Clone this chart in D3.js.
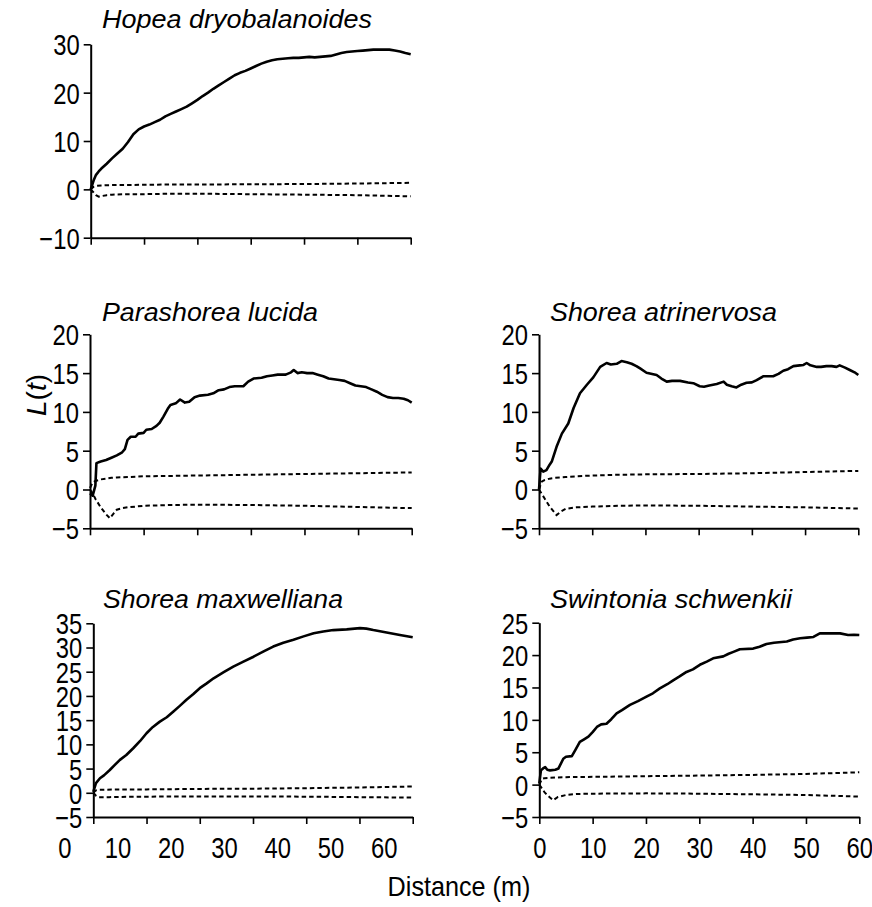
<!DOCTYPE html>
<html>
<head>
<meta charset="utf-8">
<script src="https://cdn.jsdelivr.net/npm/d3@7/dist/d3.min.js"></script>
<style>
  html, body { margin: 0; padding: 0; background: #fff; }
  svg { display: block; }
  .tick text { font-family: "Liberation Sans", Arial, sans-serif; font-size: 29px; fill: #000; }
</style>
</head>
<body>
<svg id="chart" width="872" height="907"></svg>
<script>
// ---------- DATA ----------
const speciesNames = ["Hopea dryobalanoides", "Parashorea lucida", "Shorea atrinervosa", "Shorea maxwelliana", "Swintonia schwenkii"];
const xTickValues = [0, 10, 20, 30, 40, 50, 60];

// Hopea dryobalanoides
const hopeaDist = [0,0.3,0.6,1,1.5,2,3,4,5,6,7,8,9,10,11,12,13,14,15,16,17,18,19,20,21,22,23,24,25,26,27,28,29,30,31,32,33,34,35,36,37,38,39,40,41,42,43,44,45,46,47,48,49,50,51,52,53,54,55,56,57,58,59,60];
const hopeaL    = [0,1.0,2.0,3.0,3.7,4.3,5.3,6.4,7.4,8.4,9.8,11.4,12.4,13.0,13.4,13.9,14.4,15.1,15.6,16.1,16.6,17.1,17.8,18.5,19.3,20.0,20.8,21.5,22.2,22.9,23.6,24.1,24.5,25.0,25.5,26.0,26.4,26.7,26.9,27.0,27.1,27.2,27.2,27.3,27.4,27.3,27.4,27.5,27.6,27.9,28.2,28.4,28.5,28.6,28.7,28.8,28.9,28.9,28.9,28.9,28.7,28.5,28.2,27.95];
const hopeaUpX  = [0,0.5,1,2,3,5,7,10,15,20,30,40,50,60];
const hopeaUp   = [0,0.5,0.7,0.8,0.85,0.9,0.9,0.95,1.0,1.0,1.05,1.1,1.2,1.35];
const hopeaLoX  = [0,0.5,1,1.5,2,3,4,5,7,10,15,20,30,40,50,60];
const hopeaLo   = [0,-0.6,-1.2,-1.5,-1.4,-1.2,-1.1,-1.05,-1.0,-1.0,-0.9,-0.9,-1.0,-1.1,-1.2,-1.45];

// Parashorea lucida
const paraDist = [0,0.5,1,1.2,2,3,4,5,6,6.5,7,7.6,8.5,9,10,10.5,11.5,12.4,13,13.7,14.5,15,16,16.8,17.7,18.5,19.5,20.5,22,23,24,25,26,27,28.6,29.5,30.5,32,33,34,35,36.5,37.5,38,38.7,39.5,40.5,41.5,42.5,43.5,44.5,45.5,46.5,47.5,48.5,49.5,50.5,51.5,52.5,53.5,54.5,55.5,56.5,57.5,58.5,59.3,60];
const paraL    = [-0.5,-0.8,0.5,3.4,3.6,3.8,4.1,4.4,4.8,5.2,6.4,6.8,6.8,7.2,7.3,7.7,7.8,8.2,8.6,9.4,10.4,10.9,11.1,11.6,11.2,11.3,11.9,12.1,12.2,12.4,12.8,12.9,13.2,13.3,13.3,13.9,14.3,14.4,14.6,14.7,14.8,14.8,15.1,15.4,15.0,15.1,15.0,15.0,14.8,14.6,14.3,14.2,14.1,14.0,13.7,13.4,13.3,13.2,12.9,12.6,12.2,11.9,11.8,11.8,11.7,11.5,11.2];
const paraUpX  = [0,0.5,1,2,3,4,5,7,10,15,20,30,40,50,60];
const paraUp   = [0.2,0.9,1.1,1.3,1.4,1.5,1.55,1.6,1.7,1.75,1.8,1.9,2.0,2.1,2.2];
const paraLoX  = [0,0.5,1,2,3,3.7,4.5,5,6,7,10,15,20,30,40,50,60];
const paraLo   = [0,-0.5,-1.2,-2.3,-3.2,-3.7,-3.0,-2.6,-2.4,-2.3,-2.1,-2.0,-1.95,-2.0,-2.1,-2.25,-2.4];

// Shorea atrinervosa
const atriDist = [0,0.3,0.8,1.4,2,2.4,3.3,4.3,5.5,6.5,7.7,9,10.2,11.5,12.7,13.5,14.6,15.5,16.5,17.4,18.3,19,20.2,22.1,23,24,25,26.5,28,29,30.2,31,32,33.4,34.7,35.3,36.2,37.1,38,39,40,40.9,42.2,44,45,45.9,46.8,47.8,49,49.7,50.3,51,52.2,53,54,55,55.9,56.5,57.5,58.4,59.3,60];
const atriL    = [0,2.7,2.3,2.5,3.2,3.6,5.5,7.2,8.5,10.5,12.4,13.5,14.45,15.8,16.3,16.1,16.2,16.55,16.4,16.2,15.9,15.6,15.05,14.75,14.3,13.9,14.0,14.0,13.8,13.7,13.3,13.25,13.4,13.6,13.9,13.5,13.3,13.15,13.5,13.75,13.8,14.1,14.6,14.6,14.9,15.3,15.5,15.9,16.0,16.05,16.3,16.0,15.8,15.8,15.9,15.9,15.8,16.0,15.7,15.4,15.1,14.75];
const atriUpX  = [0,0.5,1,2,3,5,7,10,15,20,30,40,50,60];
const atriUp   = [0,1.0,1.2,1.4,1.5,1.6,1.7,1.8,1.9,1.95,2.0,2.1,2.25,2.4];
const atriLoX  = [0,1,2,3.3,4.2,5,7,10,15,20,30,40,50,60];
const atriLo   = [0,-1.1,-2.2,-3.3,-2.8,-2.5,-2.3,-2.2,-2.1,-2.05,-2.1,-2.2,-2.3,-2.45];

// Shorea maxwelliana
const maxwDist = [0,0.5,1.25,2,3.1,4,5,6.2,7.5,8.8,10,11.2,12.5,13.8,15,16.2,17.5,18.8,20,21.3,22.6,24.5,26.3,28.2,30.1,32,33.8,35.7,37.6,39.5,41.4,43.2,45.1,47.6,50.1,51.3,52.6,55.1,57.6,60];
const maxwL    = [0.2,2.0,3.0,3.6,4.7,5.7,6.8,7.8,9.2,10.7,12.3,13.6,14.7,15.6,16.75,17.9,19.2,20.4,21.6,22.6,23.65,24.9,26.05,27.1,28.1,29.2,30.2,31.0,31.6,32.3,32.95,33.3,33.6,33.75,34.0,33.9,33.6,33.1,32.6,32.1];
const maxwUpX  = [0,0.5,1,5,10,20,30,40,50,60];
const maxwUp   = [0,0.5,0.6,0.7,0.7,0.8,0.85,0.95,1.1,1.3];
const maxwLoX  = [0,0.5,1,3,5,10,20,30,40,50,60];
const maxwLo   = [0,-0.6,-0.9,-0.9,-0.85,-0.8,-0.75,-0.75,-0.8,-0.9,-1.0];

// Swintonia schwenkii
const swinDist = [0,0.3,0.7,1.1,1.5,2,3,3.6,4.5,5,6.1,6.8,7.6,8.4,9.2,10,10.8,11.6,12.6,13.5,14.5,15.5,17,18.5,20.1,21.3,22.6,24,25.1,26.3,27.6,28.8,30.1,31.4,32.6,34.5,35.5,36.4,37.6,40.1,41.3,42.6,44,46.4,47.6,48.9,50.2,51.4,52.6,54.5,56.4,57.9,59,60];
const swinL    = [0.17,2.2,2.5,2.7,2.3,2.2,2.3,2.5,4.0,4.3,4.4,5.4,6.6,7.0,7.4,8.1,8.9,9.3,9.4,10.1,11.0,11.5,12.3,12.9,13.6,14.1,14.85,15.5,16.1,16.7,17.4,17.8,18.5,19.0,19.5,19.8,20.2,20.5,20.9,21.0,21.3,21.7,21.9,22.1,22.4,22.6,22.7,22.8,23.35,23.35,23.35,23.1,23.15,23.1];
const swinUpX  = [0,0.5,1,3,5,10,20,30,40,50,60];
const swinUp   = [0,0.9,1.0,1.1,1.15,1.2,1.3,1.4,1.5,1.65,1.9];
const swinLoX  = [0,1,2,2.6,3.5,5,7,10,20,30,40,50,60];
const swinLo   = [0,-1.2,-2.0,-2.4,-1.9,-1.6,-1.45,-1.4,-1.35,-1.4,-1.5,-1.6,-1.85];

// y-axis settings per panel
const yDomains = [[-10, 30], [-5, 20], [-5, 20], [-5, 35], [-5, 25]];
const yTickSteps = [10, 5, 5, 5, 5];

// ---------- LAYOUT ----------
const layout = [
  { x0: 90.7, x1: 410.7, yTop: 44.3, yBot: 237.7, titleX: 102, titleY: 28, titleW: 270, xLabels: false, labelShift: 0 },
  { x0: 90.0, x1: 411.7, yTop: 334.3, yBot: 528.3, titleX: 102, titleY: 321, titleW: 216, xLabels: false, labelShift: 0 },
  { x0: 539.0, x1: 858.3, yTop: 334.3, yBot: 528.3, titleX: 550, titleY: 321, titleW: 227, xLabels: false, labelShift: 0 },
  { x0: 93.3, x1: 412.7, yTop: 623.3, yBot: 817, titleX: 103, titleY: 608, titleW: 240, xLabels: true, labelShift: -29 },
  { x0: 539.3, x1: 859.3, yTop: 622.7, yBot: 817, titleX: 550, titleY: 608, titleW: 242, xLabels: true, labelShift: 0 }
];

const series = [
  { obsX: hopeaDist, obsY: hopeaL, upX: hopeaUpX, up: hopeaUp, loX: hopeaLoX, lo: hopeaLo },
  { obsX: paraDist,  obsY: paraL,  upX: paraUpX,  up: paraUp,  loX: paraLoX,  lo: paraLo },
  { obsX: atriDist,  obsY: atriL,  upX: atriUpX,  up: atriUp,  loX: atriLoX,  lo: atriLo },
  { obsX: maxwDist,  obsY: maxwL,  upX: maxwUpX,  up: maxwUp,  loX: maxwLoX,  lo: maxwLo },
  { obsX: swinDist,  obsY: swinL,  upX: swinUpX,  up: swinUp,  loX: swinLoX,  lo: swinLo }
];

const svg = d3.select("#chart");
const CONDENSE = 0.82;

function fmt(v) { return v < 0 ? "\u2212" + Math.abs(v) : String(v); }
function condense(sel, f) {
  sel.each(function () {
    const w = this.getComputedTextLength();
    if (w > 0) d3.select(this).attr("textLength", w * f).attr("lengthAdjust", "spacingAndGlyphs");
  });
}

series.forEach((s, i) => {
  const L = layout[i];
  const x = d3.scaleLinear().domain([0, 60]).range([L.x0, L.x1]);
  const y = d3.scaleLinear().domain(yDomains[i]).range([L.yBot, L.yTop]);
  const g = svg.append("g");

  // title
  g.append("text")
    .attr("x", L.titleX).attr("y", L.titleY)
    .attr("textLength", L.titleW).attr("lengthAdjust", "spacingAndGlyphs")
    .style("font-family", "'Liberation Sans', Arial, sans-serif")
    .style("font-style", "italic").style("font-size", "26px")
    .text(speciesNames[i]);

  // axes
  const yTicks = d3.range(yDomains[i][0], yDomains[i][1] + 0.001, yTickSteps[i]);
  const yAxis = d3.axisLeft(y).tickValues(yTicks).tickSize(7).tickSizeOuter(0).tickPadding(4).tickFormat(fmt);
  const ya = g.append("g").attr("transform", `translate(${L.x0},0)`).call(yAxis);

  const xAxis = d3.axisBottom(x).tickValues(xTickValues).tickSize(7).tickSizeOuter(0).tickPadding(13)
    .tickFormat(L.xLabels ? d3.format("d") : () => "");
  const xa = g.append("g").attr("transform", `translate(0,${L.yBot})`).call(xAxis);
  if (L.labelShift) xa.selectAll(".tick text").attr("dx", L.labelShift);

  [ya, xa].forEach(a => {
    a.select(".domain").attr("stroke", "#000").attr("stroke-width", 2);
    a.selectAll(".tick line").attr("stroke", "#000").attr("stroke-width", 1.6);
  });
  ya.selectAll(".tick text").attr("dy", "0.36em");
  condense(ya.selectAll(".tick text"), CONDENSE);
  condense(xa.selectAll(".tick text"), CONDENSE);

  // envelopes
  const line = d3.line().x(d => x(d[0])).y(d => y(d[1]));
  g.append("path").datum(d3.zip(s.upX, s.up)).attr("d", line)
    .attr("fill", "none").attr("stroke", "#000").attr("stroke-width", 2).attr("stroke-dasharray", "4.5,3");
  g.append("path").datum(d3.zip(s.loX, s.lo)).attr("d", line)
    .attr("fill", "none").attr("stroke", "#000").attr("stroke-width", 2).attr("stroke-dasharray", "4.5,3");
  // observed
  g.append("path").datum(d3.zip(s.obsX, s.obsY)).attr("d", line)
    .attr("fill", "none").attr("stroke", "#000").attr("stroke-width", 2.6).attr("stroke-linejoin", "round");
});

// Y-axis label L(t)
const yl = svg.append("text")
  .attr("transform", "translate(46,395) rotate(-90)")
  .attr("text-anchor", "middle")
  .style("font-family", "'Liberation Sans', Arial, sans-serif")
  .style("font-size", "28px");
yl.append("tspan").style("font-style", "italic").text("L");
yl.append("tspan").text("(");
yl.append("tspan").style("font-style", "italic").text("t");
yl.append("tspan").text(")");

// X-axis label
const xl = svg.append("text")
  .attr("x", 459).attr("y", 896)
  .attr("text-anchor", "middle")
  .style("font-family", "'Liberation Sans', Arial, sans-serif")
  .style("font-size", "28px")
  .text("Distance (m)");
condense(xl, 0.9);
</script>
</body>
</html>
